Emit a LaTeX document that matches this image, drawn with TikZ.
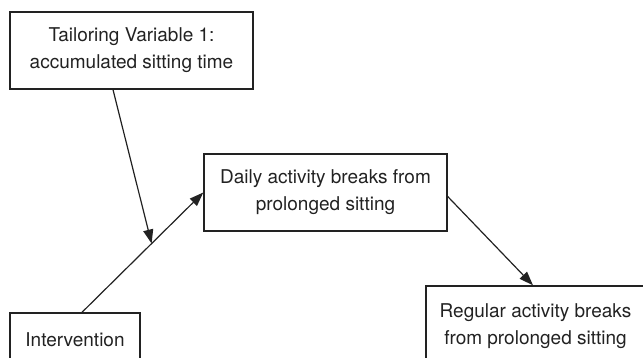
\documentclass[tikz,border=0pt]{standalone}
\usepackage{fontspec}
\setmainfont{TeX Gyre Heros}
\usetikzlibrary{arrows.meta,calc}
\definecolor{ink}{HTML}{222222}
\tikzset{
  box/.style={draw=ink, line width=1.4pt, inner sep=0pt, align=center, text=ink,
    font=\fontsize{19}{27}\selectfont},
  arr/.style={draw=ink, line width=1.2pt, -{Triangle[length=14pt,width=10pt]}}
}
\begin{document}
\begin{tikzpicture}[x=1pt,y=-1pt]
\useasboundingbox (0,0) rectangle (643,358);
\clip (0,0) rectangle (643,358);
\node[box, minimum width=243pt, minimum height=77pt] (tail) at (131.5,50.5) {Tailoring Variable 1:\\accumulated sitting time};
\node[box, minimum width=243pt, minimum height=77pt] (daily) at (325.5,192.5) {Daily activity breaks from\\prolonged sitting};
\node[box, minimum width=130pt, minimum height=53pt] (int) at (75,339.5) {Intervention};
\node[box, minimum width=219pt, minimum height=80pt] (reg) at (535.5,326) {Regular activity breaks\\from prolonged sitting};
\coordinate (s) at ($(int.north)+(7,0)$);
\coordinate (m) at ($(s)!0.574!(daily.west)$);
\draw[arr] (s) -- (daily.west);
\draw[arr] ($(tail.south)+(-18.5,0)$) -- (m);
\draw[arr] ($(daily.east)+(0,4)$) -- ($(reg.north)+(-2.5,0)$);
\end{tikzpicture}
\end{document}
